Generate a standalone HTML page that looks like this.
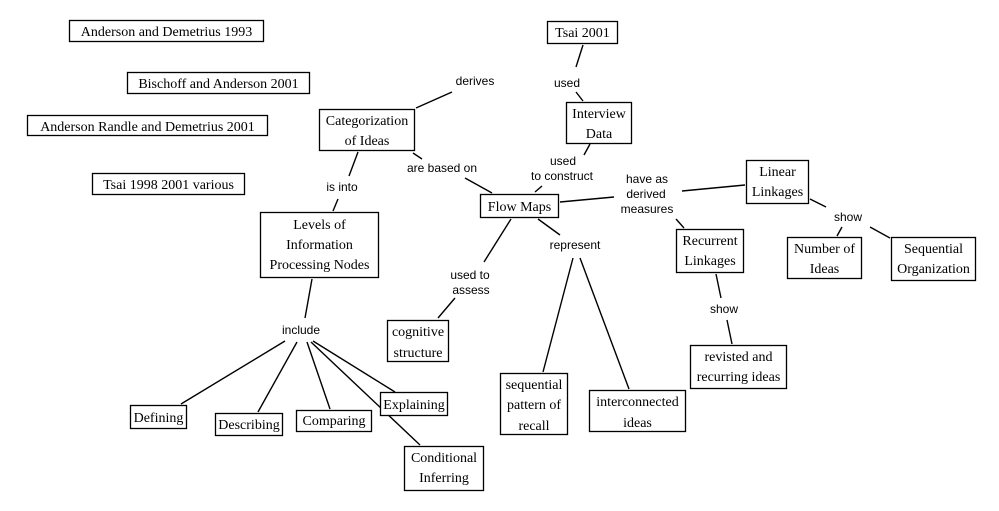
<!DOCTYPE html>
<html><head><meta charset="utf-8"><style>
html,body{margin:0;padding:0;background:#fff;}
svg{display:block}
.b{fill:#fff;stroke:#000;stroke-width:1.3}
.t{font-family:"Liberation Serif",serif;font-size:14px;fill:#000;text-anchor:middle}
.l{font-family:"Liberation Sans",sans-serif;font-size:12px;fill:#000;text-anchor:middle}
line{stroke:#000;stroke-width:1.4}
</style></head><body>
<svg width="999" height="511" viewBox="0 0 999 511" xmlns="http://www.w3.org/2000/svg">
<rect width="999" height="511" fill="#fff"/>
<!-- boxes -->
<rect class="b" x="69.5" y="20.5" width="194" height="21"/>
<text class="t" x="166.5" y="36">Anderson and Demetrius 1993</text>
<rect class="b" x="127.5" y="72.5" width="182" height="21"/>
<text class="t" x="218.5" y="88">Bischoff and Anderson 2001</text>
<rect class="b" x="27.5" y="115.5" width="240" height="20"/>
<text class="t" x="147.5" y="131">Anderson Randle and Demetrius 2001</text>
<rect class="b" x="92.5" y="173.5" width="152" height="21"/>
<text class="t" x="168.5" y="189">Tsai 1998 2001 various</text>
<rect class="b" x="547.5" y="21.5" width="70" height="22"/>
<text class="t" x="582.5" y="37">Tsai 2001</text>
<rect class="b" x="319.5" y="109.5" width="95" height="41"/>
<text class="t" x="367" y="125">Categorization</text><text class="t" x="367" y="145">of Ideas</text>
<rect class="b" x="566.5" y="102.5" width="65" height="41"/>
<text class="t" x="599" y="118">Interview</text><text class="t" x="599" y="138">Data</text>
<rect class="b" x="480.5" y="194.5" width="78" height="23"/>
<text class="t" x="519.5" y="211">Flow Maps</text>
<rect class="b" x="746.5" y="160.5" width="62" height="43"/>
<text class="t" x="777.5" y="176">Linear</text><text class="t" x="777.5" y="196">Linkages</text>
<rect class="b" x="676.5" y="229.5" width="67" height="43"/>
<text class="t" x="710" y="245">Recurrent</text><text class="t" x="710" y="265">Linkages</text>
<rect class="b" x="787.5" y="237.5" width="74" height="41"/>
<text class="t" x="824.5" y="253">Number of</text><text class="t" x="824.5" y="273">Ideas</text>
<rect class="b" x="891.5" y="237.5" width="84" height="43"/>
<text class="t" x="933.5" y="253">Sequential</text><text class="t" x="933.5" y="273">Organization</text>
<rect class="b" x="690.5" y="345.5" width="96" height="43"/>
<text class="t" x="738.5" y="361">revisted and</text><text class="t" x="738.5" y="381">recurring ideas</text>
<rect class="b" x="500.5" y="373.5" width="67" height="61"/>
<text class="t" x="534" y="389">sequential</text><text class="t" x="534" y="409">pattern of</text><text class="t" x="534" y="430">recall</text>
<rect class="b" x="589.5" y="390.5" width="96" height="41"/>
<text class="t" x="637.5" y="406">interconnected</text><text class="t" x="637.5" y="427">ideas</text>
<rect class="b" x="260.5" y="212.5" width="118" height="65"/>
<text class="t" x="319.5" y="229">Levels of</text><text class="t" x="319.5" y="249">Information</text><text class="t" x="319.5" y="269">Processing Nodes</text>
<rect class="b" x="387.5" y="320.5" width="61" height="41"/>
<text class="t" x="418" y="336">cognitive</text><text class="t" x="418" y="357">structure</text>
<rect class="b" x="130.5" y="405.5" width="56" height="23"/>
<text class="t" x="158.5" y="422">Defining</text>
<rect class="b" x="215.5" y="413.5" width="67" height="22"/>
<text class="t" x="249" y="429">Describing</text>
<rect class="b" x="296.5" y="410.5" width="75" height="21"/>
<text class="t" x="334" y="425">Comparing</text>
<rect class="b" x="404.5" y="446.5" width="79" height="44"/>
<text class="t" x="444" y="462">Conditional</text><text class="t" x="444" y="482">Inferring</text>
<!-- lines -->
<line x1="416" y1="108" x2="452" y2="92"/>
<line x1="583" y1="45" x2="576" y2="67"/>
<line x1="576" y1="92" x2="583" y2="101"/>
<line x1="590" y1="144" x2="584" y2="155"/>
<line x1="542" y1="186" x2="535" y2="192"/>
<line x1="413" y1="153" x2="422" y2="159"/>
<line x1="465" y1="178" x2="492" y2="193"/>
<line x1="358" y1="152" x2="349" y2="176"/>
<line x1="338" y1="199" x2="333" y2="211"/>
<line x1="560" y1="202" x2="614" y2="197"/>
<line x1="682" y1="191" x2="745" y2="185"/>
<line x1="676" y1="219" x2="684" y2="228"/>
<line x1="810" y1="199" x2="826" y2="207"/>
<line x1="842" y1="227" x2="837" y2="236"/>
<line x1="870" y1="227" x2="890" y2="238"/>
<line x1="716" y1="274" x2="721" y2="298"/>
<line x1="727" y1="320" x2="732" y2="344"/>
<line x1="538" y1="219" x2="560" y2="235"/>
<line x1="573" y1="258" x2="543" y2="372"/>
<line x1="580" y1="258" x2="629" y2="389"/>
<line x1="511" y1="219" x2="484" y2="262"/>
<line x1="455" y1="298" x2="438" y2="318"/>
<line x1="312" y1="279" x2="305" y2="318"/>
<line x1="285" y1="341" x2="181" y2="404"/>
<line x1="297" y1="342" x2="258" y2="412"/>
<line x1="307" y1="342" x2="330" y2="409"/>
<line x1="313" y1="341" x2="395" y2="392"/>
<line x1="311" y1="342" x2="420" y2="445"/>
<rect class="b" x="380.5" y="392.5" width="67" height="23"/>
<text class="t" x="414" y="409">Explaining</text>
<!-- labels -->
<text class="l" x="475" y="85">derives</text>
<text class="l" x="567" y="87">used</text>
<text class="l" x="563" y="165">used</text>
<text class="l" x="562" y="180">to construct</text>
<text class="l" x="342" y="191">is into</text>
<text class="l" x="442" y="172">are based on</text>
<text class="l" x="647" y="183">have as</text>
<text class="l" x="646" y="198">derived</text>
<text class="l" x="647" y="213">measures</text>
<text class="l" x="848" y="221">show</text>
<text class="l" x="575" y="249">represent</text>
<text class="l" x="470" y="279">used to</text>
<text class="l" x="471" y="294">assess</text>
<text class="l" x="724" y="313">show</text>
<text class="l" x="301" y="334">include</text>
</svg>
</body></html>
